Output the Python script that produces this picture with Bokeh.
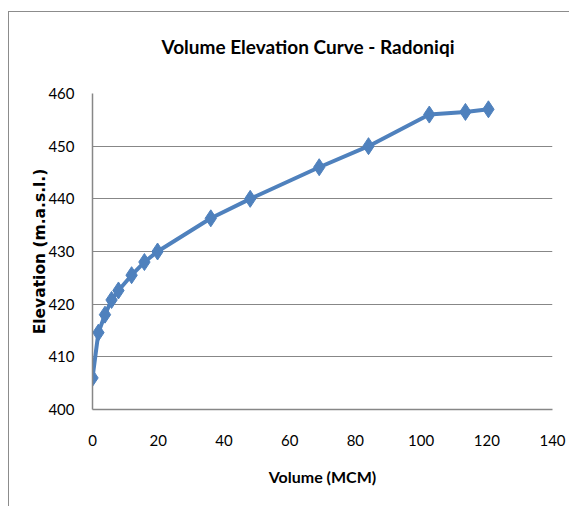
from bokeh.plotting import figure
from bokeh.embed import file_html
from bokeh.resources import INLINE
from bokeh.models import FixedTicker, Title

volume = [0, 1.8, 3.8, 5.8, 7.9, 11.9, 15.8, 19.8, 36, 48, 69, 84, 102.5, 113.5, 120.5]
elevation = [406, 414.6, 418, 420.8, 422.6, 425.5, 428, 430, 436.3, 440, 446, 450, 456, 456.5, 457]
x_ticks = [0, 20, 40, 60, 80, 100, 120, 140]
y_ticks = [400, 410, 420, 430, 440, 450, 460]
title_text = "Volume Elevation Curve - Radoniqi"

NARROW = "Lato"
GRID = "#878787"
BLUE = "#4F81BD"

p = figure(frame_width=460, frame_height=316,
           x_range=(0, 140), y_range=(400, 460),
           output_backend="svg", toolbar_location=None,
           min_border_left=83, min_border_top=81, min_border_right=17, min_border_bottom=97,
           title=title_text)
p.styles = {"border-top": "1px solid #8c8c8c", "border-left": "1px solid #8c8c8c",
            "margin-top": "11px", "margin-left": "8px"}
p.outline_line_color = None
p.background_fill_color = "white"
p.border_fill_color = "white"

p.title.text_font = NARROW
p.title.text_font_size = "19px"
p.title.text_font_style = "bold"
p.title.text_color = "black"
p.title.align = "left"
p.title.offset = 69
p.title.standoff = 10

# empty spacer title between the main title and the frame
spacer = Title(text=" ", text_font_size="1px", standoff=28)
p.add_layout(spacer, "above")

p.line(volume, elevation, line_color=BLUE, line_width=4)
p.scatter(volume, elevation, marker="diamond", size=17, fill_color=BLUE, line_color=BLUE)

for ax in (p.xaxis, p.yaxis):
    ax.axis_line_color = GRID
    ax.axis_line_width = 1.5
    ax.major_tick_line_color = None
    ax.minor_tick_line_color = None
    ax.major_label_text_font = NARROW
    ax.major_label_text_font_size = "15px"
    ax.major_label_text_color = "black"
    ax.axis_label_text_color = "black"
    ax.axis_label_text_font_style = "bold"

p.xaxis.ticker = FixedTicker(ticks=x_ticks)
p.yaxis.ticker = FixedTicker(ticks=y_ticks)
p.xaxis.major_label_standoff = 19
p.yaxis.major_label_standoff = 12
p.xaxis.axis_label = "Volume (MCM)"
p.xaxis.axis_label_text_font = NARROW
p.xaxis.axis_label_text_font_size = "16px"
p.xaxis.axis_label_standoff = 18
p.yaxis.axis_label = "Elevation (m.a.s.l.)"
p.yaxis.axis_label_text_font = "DejaVu Sans"
p.yaxis.axis_label_text_font_size = "15.5px"
p.yaxis.axis_label_standoff = -4

p.xgrid.grid_line_color = None
p.ygrid.grid_line_color = GRID
p.ygrid.grid_line_width = 1.2

open("out.html", "w").write(file_html(p, INLINE))
